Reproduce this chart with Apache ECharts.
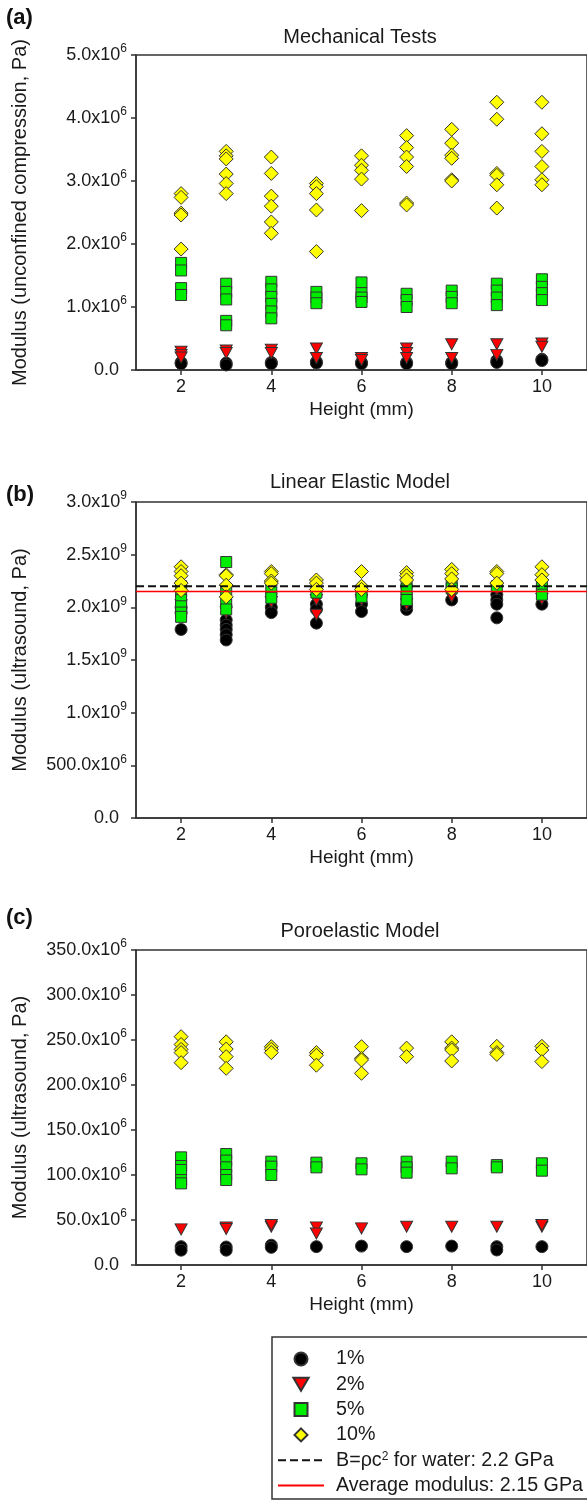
<!DOCTYPE html>
<html><head><meta charset="utf-8">
<script src="https://cdn.jsdelivr.net/npm/echarts@6/dist/echarts.min.js"></script>
<style>html,body{margin:0;padding:0;background:#fff}#c{width:587px;height:1501px}</style>
</head><body><div id="c"></div>
<script>
// ---------------- data ----------------
const heights = [2, 3, 4, 5, 6, 7, 8, 9, 10];
const xTicks = [2, 4, 6, 8, 10];
const seriesNames = ['1%', '2%', '5%', '10%'];
const waterName = 'B=ρc2 for water: 2.2 GPa';
const avgName = 'Average modulus: 2.15 GPa';
const waterModulus = 2.2;   // x10^9 Pa
const avgModulus = 2.15;    // x10^9 Pa

// Panel (a): Mechanical tests, x10^6 Pa, one list per height
const a1 = [[0.12, 0.10], [0.11, 0.08], [0.12, 0.10], [0.13, 0.11], [0.12, 0.10], [0.12, 0.10], [0.12, 0.10], [0.15, 0.12], [0.17, 0.15]];
const a2 = [[0.29, 0.24, 0.20], [0.31, 0.27], [0.32, 0.27], [0.34, 0.19], [0.19, 0.16], [0.34, 0.27, 0.19], [0.41, 0.19], [0.41, 0.24], [0.42, 0.37]];
const a5 = [[1.70, 1.58, 1.30, 1.19], [1.37, 1.24, 1.12, 0.78, 0.71], [1.40, 1.28, 1.16, 1.05, 0.93, 0.82], [1.24, 1.15, 1.06], [1.39, 1.22, 1.15, 1.08], [1.21, 1.11, 1.00], [1.26, 1.16, 1.06], [1.37, 1.26, 1.15, 1.03], [1.44, 1.32, 1.22, 1.11]];
const a10 = [[2.80, 2.74, 2.49, 2.46, 1.92], [3.47, 3.40, 3.35, 3.11, 2.96, 2.80], [3.38, 3.12, 2.76, 2.60, 2.35, 2.17], [2.96, 2.91, 2.80, 2.54, 1.88], [3.40, 3.25, 3.17, 3.03, 2.53], [3.72, 3.53, 3.38, 3.23, 2.65, 2.62], [3.82, 3.60, 3.41, 3.36, 3.02, 3.00], [4.25, 3.98, 3.12, 3.09, 2.94, 2.57], [4.25, 3.75, 3.47, 3.23, 3.02, 2.94]];

// Panel (b): Linear elastic model, x10^9 Pa
const b1 = [[1.79, 1.95, 2.00], [1.88, 1.83, 1.79, 1.74, 1.69], [2.00, 1.95], [2.03, 1.98, 1.85], [2.03, 1.96], [1.98, 2.02], [2.07], [2.12, 2.07, 2.03, 1.90], [2.03]];
const b2 = [[2.02], [1.95], [2.05], [2.07, 1.93], [2.07], [2.03], [2.10], [2.17], [2.08]];
const b5 = [[2.20, 2.15, 2.07, 2.01, 1.95, 1.91], [2.43, 2.17, 2.05, 1.98], [2.17, 2.09], [2.14], [2.14, 2.10], [2.23, 2.17, 2.10, 2.07], [2.23, 2.18], [2.20], [2.21, 2.12]];
const b10 = [[2.385, 2.34, 2.30, 2.23, 2.16], [2.31, 2.30, 2.21, 2.10], [2.34, 2.32, 2.25, 2.23], [2.26, 2.23, 2.17], [2.34, 2.20, 2.17], [2.33, 2.30, 2.26], [2.36, 2.32, 2.27, 2.17], [2.34, 2.32, 2.23], [2.385, 2.31, 2.26]];

// Panel (c): Poroelastic model, x10^6 Pa
const c1 = [[20.4, 16.5], [20.0, 16.5], [22.0, 19.6], [20.4], [21.0], [20.4], [21.0], [20.4, 16.7], [20.4]];
const c2 = [[39.6], [41.8, 40.0], [42.6, 44.4], [41.8, 35.0], [40.7], [42.6], [42.6], [42.6], [42.6, 44.4]];
const c5 = [[119.6, 110.0, 105.6, 94.4, 90.7], [123.3, 116.0, 108.5, 100.0, 94.4], [114.8, 109.3, 100.0], [113.7, 108.5], [113.0, 106.3], [114.8, 108.5, 102.6], [114.8, 107.4], [111.0, 108.5], [113.0, 104.8]];
const c10 = [[253.7, 245.0, 239.6, 236.0, 224.8], [248.0, 240.0, 231.5, 218.5], [242.6, 239.6, 236.0], [236.0, 233.0, 222.0], [242.6, 229.6, 227.8, 213.0], [241.0, 231.5], [248.0, 241.0, 238.9, 226.7], [243.0, 236.0, 234.0], [243.0, 239.0, 226.0]];

// tick labels
const aTickLabels = ['0.0', '1.0x10^6', '2.0x10^6', '3.0x10^6', '4.0x10^6', '5.0x10^6'];
const bTickLabels = ['0.0', '500.0x10^6', '1.0x10^9', '1.5x10^9', '2.0x10^9', '2.5x10^9', '3.0x10^9'];
const cTickLabels = ['0.0', '50.0x10^6', '100.0x10^6', '150.0x10^6', '200.0x10^6', '250.0x10^6', '300.0x10^6', '350.0x10^6'];

const titles = ['Mechanical Tests', 'Linear Elastic Model', 'Poroelastic Model'];
const panelTags = ['(a)', '(b)', '(c)'];
const yNames = ['Modulus (unconfined compression, Pa)', 'Modulus (ultrasound, Pa)', 'Modulus (ultrasound, Pa)'];

// ---------------- build ----------------
const FONT = '"Liberation Sans", Arial, sans-serif';
const TXT = '#1a1a1a';
const EDGE = '#333';
function flat(groups) {
  const out = [];
  groups.forEach((g, i) => g.forEach(v => out.push([heights[i], v])));
  return out;
}
const tri = 'path://M0,0 L20,0 L10,17 Z';
const sq = 'path://M0,0 L10,0 L10,10 L0,10 Z';
const dia = 'path://M5,0 L10,5 L5,10 L0,5 Z';
const styles = [
  { symbol: 'circle', symbolSize: 12, color: '#000000', icon: 'circle' },
  { symbol: tri, symbolSize: [12, 11], color: '#ff0000', icon: tri },
  { symbol: 'rect', symbolSize: 11, color: '#00ee00', icon: sq },
  { symbol: 'diamond', symbolSize: 14, color: '#ffff00', icon: dia }
];
const grids = [
  { left: 136, top: 55, width: 452, height: 315 },
  { left: 136, top: 502, width: 452, height: 316 },
  { left: 136, top: 950, width: 452, height: 315 }
];
const yCfg = [
  { max: 5, interval: 1, labels: aTickLabels },
  { max: 3, interval: 0.5, labels: bTickLabels },
  { max: 350, interval: 50, labels: cTickLabels }
];
const panels = [[a1, a2, a5, a10], [b1, b2, b5, b10], [c1, c2, c5, c10]];

function tickFmt(labels, interval) {
  return function (v) {
    const s = labels[Math.round(v / interval)];
    if (s === undefined) return '';
    const p = s.split('^');
    return p.length > 1 ? '{b|' + p[0] + '}{s|' + p[1] + '}' : '{b|' + p[0] + '}{sp| }';
  };
}
const richTick = {
  b: { fontSize: 18, fontFamily: FONT, color: TXT, lineHeight: 24 },
  s: { fontSize: 12, fontFamily: FONT, color: TXT, lineHeight: 11, verticalAlign: 'top' },
  sp: { fontSize: 12, width: 8, lineHeight: 11 }
};

const legendData = seriesNames.map((n, k) => ({ name: n, icon: styles[k].icon }))
  .concat([
    { name: waterName, itemStyle: { color: 'rgba(0,0,0,0)', borderColor: 'rgba(0,0,0,0)', borderWidth: 0 } },
    { name: avgName, itemStyle: { color: 'rgba(0,0,0,0)', borderColor: 'rgba(0,0,0,0)', borderWidth: 0 } }
  ]);

const option = {
  animation: false,
  backgroundColor: '#ffffff',
  grid: grids.map(g => Object.assign({ show: true, borderColor: EDGE, borderWidth: 1.5, backgroundColor: 'transparent' }, g)),
  xAxis: grids.map((g, i) => ({
    type: 'value', gridIndex: i, min: 1, max: 11,
    name: 'Height (mm)', nameLocation: 'middle', nameGap: 30,
    nameTextStyle: { fontSize: 19, fontFamily: FONT, color: TXT },
    axisLine: { show: true, onZero: false, lineStyle: { color: EDGE, width: 1.5 } },
    axisTick: { show: true, customValues: xTicks, length: 5, lineStyle: { color: EDGE, width: 1.5 } },
    axisLabel: { customValues: xTicks, fontSize: 18, fontFamily: FONT, color: TXT, margin: 8 },
    splitLine: { show: false }
  })),
  yAxis: grids.map((g, i) => ({
    type: 'value', gridIndex: i, min: 0, max: yCfg[i].max, interval: yCfg[i].interval,
    name: yNames[i], nameLocation: 'middle', nameGap: 106, nameRotate: 90,
    nameTextStyle: { fontSize: 20, fontFamily: FONT, color: TXT },
    axisLine: { show: true, lineStyle: { color: EDGE, width: 1.5 } },
    axisTick: { show: true, length: 5, lineStyle: { color: EDGE, width: 1.5 } },
    axisLabel: { formatter: tickFmt(yCfg[i].labels, yCfg[i].interval), rich: richTick, margin: 9 },
    splitLine: { show: false }
  })),
  series: [],
  legend: {
    left: 277, top: 1349, orient: 'vertical', padding: 0, height: 170, width: 320,
    itemWidth: 46, itemHeight: 13, itemGap: 5.3,
    data: legendData,
    formatter: function (name) {
      if (name === waterName) return 'B=ρc{sup|2} for water: 2.2 GPa';
      return name;
    },
    textStyle: {
      fontSize: 19.7, fontFamily: FONT, color: TXT, lineHeight: 19, padding: [0, 0, 0, 7],
      rich: { sup: { fontSize: 12, fontFamily: FONT, color: TXT, lineHeight: 10, verticalAlign: 'top' } }
    }
  },
  graphic: []
};

panels.forEach((groups, p) => {
  groups.forEach((g, k) => {
    option.series.push({
      type: 'scatter', name: seriesNames[k], xAxisIndex: p, yAxisIndex: p,
      data: flat(g), symbol: styles[k].symbol, symbolSize: styles[k].symbolSize,
      itemStyle: { color: styles[k].color, borderColor: EDGE, borderWidth: 1, opacity: 1 },
      emphasis: { disabled: true }
    });
  });
});
option.series.push({
  type: 'line', name: waterName, xAxisIndex: 1, yAxisIndex: 1, symbol: 'none',
  data: [[1, waterModulus], [11, waterModulus]],
  lineStyle: { color: '#111', width: 2, type: [8, 4] }, itemStyle: { color: '#111' }, z: 3
});
option.series.push({
  type: 'line', name: avgName, xAxisIndex: 1, yAxisIndex: 1, symbol: 'none',
  data: [[1, avgModulus], [11, avgModulus]],
  lineStyle: { color: '#ff0000', width: 1.5 }, itemStyle: { color: '#ff0000' }, z: 3
});

const titleY = [37, 482, 931];
const tagY = [18, 495, 918];
titles.forEach((t, i) => {
  option.graphic.push({ type: 'text', x: 360, y: titleY[i], silent: true,
    style: { text: t, font: '20px ' + FONT, fill: TXT, align: 'center', verticalAlign: 'middle' } });
  option.graphic.push({ type: 'text', x: 6, y: tagY[i], silent: true,
    style: { text: panelTags[i], font: 'bold 22px ' + FONT, fill: '#111', align: 'left', verticalAlign: 'middle' } });
});
option.graphic.push({ type: 'rect', z: -10, silent: true,
  shape: { x: 272, y: 1337, width: 330, height: 162 },
  style: { fill: '#fff', stroke: EDGE, lineWidth: 1.5 } });

const chart = echarts.init(document.getElementById('c'), null, { renderer: 'canvas' });
chart.setOption(option);
</script></body></html>
